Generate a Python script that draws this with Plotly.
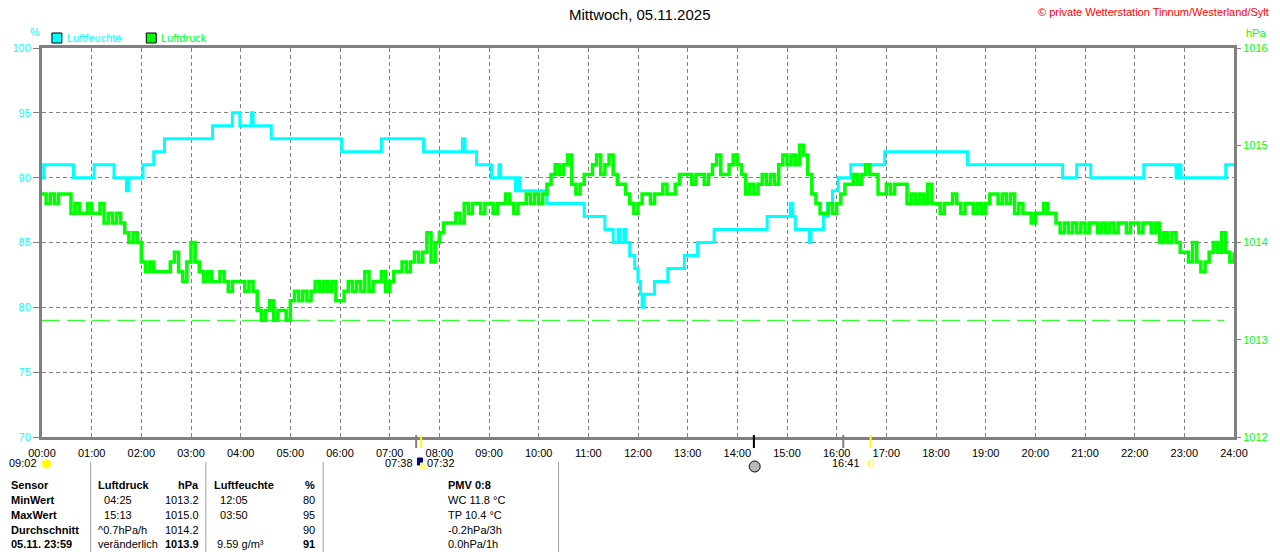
import numpy as np
import plotly.graph_objects as go

FONT = "Liberation Sans, Arial, sans-serif"
GRAU = "#808080"
CYAN = "#00ffff"
GRUEN = "#00ff00"

titel = "Mittwoch, 05.11.2025"
copyright_text = "© private Wetterstation Tinnum/Westerland/Sylt"
stunden_labels = ["%02d:00" % h for h in range(25)]

# Luftfeuchte (%) als Stufen: Uhrzeit der Aenderung -> neuer Wert
feuchte_zeit = ["00:00", "00:02", "00:38", "01:03", "01:27", "01:42", "01:45", "02:02", "02:15", "02:28",
                "03:26", "03:50", "03:59", "04:13", "04:15", "04:37", "06:02", "06:50", "07:41", "08:28",
                "08:31", "08:45", "09:03", "09:12", "09:14", "09:32", "09:34", "09:37", "10:10", "10:55",
                "11:20", "11:30", "11:36", "11:38", "11:43", "11:45", "11:50", "11:56", "12:00", "12:03",
                "12:05", "12:07", "12:20", "12:36", "12:56", "13:12", "13:32", "14:36", "15:04", "15:07",
                "15:10", "15:27", "15:29", "15:44", "15:49", "15:55", "16:02", "16:17", "16:58", "18:38",
                "20:33", "20:50", "21:07", "22:11", "22:50", "22:53", "22:56", "23:50", "24:00"]
feuchte_wert = [90, 91, 90, 91, 90, 89, 90, 91, 92, 93,
                94, 95, 94, 95, 94, 93, 92, 93, 92, 93,
                92, 91, 90, 91, 90, 89, 90, 89, 88, 87,
                86, 85, 86, 85, 86, 85, 84, 83, 82, 81,
                80, 81, 82, 83, 84, 85, 86, 87, 88, 87,
                86, 85, 86, 87, 88, 89, 90, 91, 92, 91,
                90, 91, 90, 91, 90, 91, 90, 91, 91]

# Luftdruck (hPa) alle 5 Minuten
druck_00_06 = [1014.5, 1014.4, 1014.5, 1014.4, 1014.5, 1014.5, 1014.5, 1014.3, 1014.4, 1014.3, 1014.3, 1014.4,
               1014.3, 1014.3, 1014.4, 1014.2, 1014.3, 1014.2, 1014.3, 1014.2, 1014.1, 1014.0, 1014.1, 1014.0,
               1013.8, 1013.7, 1013.8, 1013.7, 1013.7, 1013.7, 1013.7, 1013.8, 1013.9, 1013.7, 1013.6, 1013.8,
               1014.0, 1013.8, 1013.7, 1013.6, 1013.7, 1013.6, 1013.6, 1013.7, 1013.6, 1013.5, 1013.6, 1013.6,
               1013.6, 1013.5, 1013.6, 1013.5, 1013.3, 1013.2, 1013.3, 1013.4, 1013.2, 1013.3, 1013.3, 1013.2,
               1013.4, 1013.5, 1013.4, 1013.5, 1013.4, 1013.5, 1013.6, 1013.5, 1013.6, 1013.5, 1013.6, 1013.4]
druck_06_12 = [1013.4, 1013.5, 1013.6, 1013.5, 1013.6, 1013.5, 1013.7, 1013.5, 1013.6, 1013.6, 1013.7, 1013.5,
               1013.6, 1013.7, 1013.7, 1013.8, 1013.7, 1013.8, 1013.9, 1013.8, 1013.9, 1014.1, 1013.8, 1014.0,
               1014.1, 1014.2, 1014.2, 1014.2, 1014.3, 1014.2, 1014.4, 1014.3, 1014.4, 1014.4, 1014.3, 1014.4,
               1014.4, 1014.3, 1014.4, 1014.4, 1014.5, 1014.4, 1014.3, 1014.4, 1014.4, 1014.5, 1014.4, 1014.5,
               1014.4, 1014.5, 1014.6, 1014.7, 1014.8, 1014.7, 1014.8, 1014.9, 1014.6, 1014.5, 1014.6, 1014.7,
               1014.7, 1014.8, 1014.9, 1014.7, 1014.8, 1014.9, 1014.7, 1014.6, 1014.6, 1014.5, 1014.4, 1014.3]
druck_12_18 = [1014.4, 1014.5, 1014.5, 1014.4, 1014.5, 1014.5, 1014.6, 1014.5, 1014.5, 1014.6, 1014.7, 1014.7,
               1014.7, 1014.6, 1014.7, 1014.7, 1014.6, 1014.7, 1014.8, 1014.9, 1014.7, 1014.7, 1014.8, 1014.9,
               1014.8, 1014.7, 1014.5, 1014.6, 1014.5, 1014.6, 1014.7, 1014.6, 1014.7, 1014.6, 1014.8, 1014.9,
               1014.8, 1014.9, 1014.8, 1015.0, 1014.9, 1014.7, 1014.5, 1014.4, 1014.3, 1014.3, 1014.4, 1014.3,
               1014.4, 1014.5, 1014.6, 1014.6, 1014.7, 1014.6, 1014.7, 1014.8, 1014.7, 1014.7, 1014.5, 1014.5,
               1014.6, 1014.5, 1014.6, 1014.6, 1014.6, 1014.4, 1014.5, 1014.4, 1014.5, 1014.4, 1014.6, 1014.4]
druck_18_24 = [1014.4, 1014.3, 1014.4, 1014.4, 1014.5, 1014.4, 1014.3, 1014.4, 1014.4, 1014.3, 1014.4, 1014.3,
               1014.4, 1014.5, 1014.5, 1014.4, 1014.5, 1014.4, 1014.5, 1014.3, 1014.4, 1014.3, 1014.3, 1014.2,
               1014.3, 1014.3, 1014.4, 1014.3, 1014.3, 1014.2, 1014.1, 1014.2, 1014.1, 1014.2, 1014.1, 1014.2,
               1014.1, 1014.2, 1014.2, 1014.1, 1014.2, 1014.1, 1014.2, 1014.1, 1014.2, 1014.2, 1014.1, 1014.2,
               1014.2, 1014.1, 1014.2, 1014.2, 1014.1, 1014.2, 1014.0, 1014.1, 1014.0, 1014.1, 1014.0, 1013.9,
               1013.9, 1013.8, 1014.0, 1013.8, 1013.7, 1013.8, 1013.9, 1014.0, 1013.9, 1014.1, 1013.9, 1013.8,
               1013.9]

# Sonne/Mond-Markierungen an der Zeitachse
ereignis_zeit = ["07:32", "07:38", "14:20", "16:08", "16:41"]
ereignis_farbe = [GRAU, "#ffff00", "#000000", GRAU, "#ffff00"]

# Tabelle unten
tab_sensor = ["<b>Sensor</b>", "<b>MinWert</b>", "<b>MaxWert</b>", "<b>Durchschnitt</b>", "<b>05.11. 23:59</b>"]
tab_druck_txt = ["<b>Luftdruck</b>", "  04:25", "  15:13", "^0.7hPa/h", "veränderlich"]
tab_druck_val = ["<b>hPa</b>", "1013.2", "1015.0", "1014.2", "<b>1013.9</b>"]
tab_feuchte_txt = ["<b>Luftfeuchte</b>", "  12:05", "  03:50", "", " 9.59 g/m³"]
tab_feuchte_val = ["<b>%</b>", "80", "95", "90", "<b>91</b>"]
tab_extra = ["<b>PMV 0:8</b>", "WC 11.8 °C", "TP 10.4 °C", "-0.2hPa/3h", "0.0hPa/1h"]


def stunden(t):
    h, m = t.split(":")
    return int(h) + int(m) / 60.0


druck = druck_00_06 + druck_06_12 + druck_12_18 + druck_18_24
druck_x = np.arange(len(druck)) * 5 / 60.0
feuchte_x = [stunden(t) for t in feuchte_zeit]

W, H = 1280, 552
L, R, T, B = 40, 40, 48, 115


def fx(px):
    return (px - L) / (W - L - R)


def fy(py):
    return (H - B - py) / (H - T - B)


fig = go.Figure()

fig.add_trace(go.Scatter(x=feuchte_x, y=feuchte_wert, mode="lines", line_shape="hv",
                         line=dict(color=CYAN, width=3), name="Luftfeuchte"))
fig.add_trace(go.Scatter(x=druck_x, y=druck, mode="lines", line_shape="hv", yaxis="y2",
                         line=dict(color=GRUEN, width=3.5), name="Luftdruck"))

# Minimum Luftdruck gestrichelt
fig.add_shape(type="line", xref="x", yref="y2", x0=0, x1=23.8, y0=min(druck), y1=min(druck),
              line=dict(color=GRUEN, width=1, dash="18px,7px"), layer="below")

fig.update_layout(
    width=W, height=H,
    margin=dict(l=L, r=R, t=T, b=B),
    paper_bgcolor="white", plot_bgcolor="white",
    showlegend=False,
    font=dict(family=FONT, size=11, color="black"),
    xaxis=dict(range=[0, 24], tickvals=list(range(25)), ticktext=stunden_labels,
               showgrid=True, gridcolor=GRAU, griddash="4px,3px", gridwidth=1,
               showline=True, linecolor=GRAU, linewidth=3, mirror=True,
               ticks="outside", ticklen=4, tickcolor="rgba(0,0,0,0)",
               tickfont=dict(size=11, color="black"), zeroline=False),
    yaxis=dict(range=[70, 100], dtick=5, showgrid=True, gridcolor=GRAU, griddash="4px,3px",
               showline=True, linecolor=GRAU, linewidth=3, mirror=True,
               ticks="outside", ticklen=6, tickcolor=GRAU,
               tickfont=dict(size=11, color=CYAN), zeroline=False),
    yaxis2=dict(range=[1012, 1016], dtick=1, overlaying="y", side="right", showgrid=False,
                showline=False, ticks="outside", ticklen=6, tickcolor=GRAU,
                tickfont=dict(size=11, color=GRUEN), zeroline=False),
)


def text(x, y, s, color="black", size=11, anchor="left"):
    fig.add_annotation(x=fx(x), y=fy(y), xref="paper", yref="paper", text=s, showarrow=False,
                       xanchor=anchor, yanchor="middle", font=dict(color=color, size=size, family=FONT))


def box(x0, y0, x1, y1, fill, line="black", typ="rect"):
    fig.add_shape(type=typ, xref="paper", yref="paper", x0=fx(x0), x1=fx(x1), y0=fy(y0), y1=fy(y1),
                  fillcolor=fill, line=dict(color=line, width=1))


# Kopf
text(642, 15, titel, size=15, anchor="center")
text(1277, 12, copyright_text, color="#ff0000", size=11, anchor="right")
text(26, 32, "%", color=CYAN)
text(1250, 33, "hPa", color=GRUEN)
box(50, 33, 60, 43, CYAN)
text(63, 38, "Luftfeuchte", color=CYAN)
box(145, 33, 155, 43, GRUEN)
text(158, 38, "Luftdruck", color=GRUEN)

# Markierungen an der Zeitachse
for t, c in zip(ereignis_zeit, ereignis_farbe):
    fig.add_shape(type="line", xref="x", yref="paper", x0=stunden(t), x1=stunden(t),
                  y0=fy(448), y1=fy(435), line=dict(color=c, width=2))

text(37, 463, "09:02", anchor="right")
box(40, 460, 49, 468, "#ffff00", line="#ffff00", typ="circle")
text(415, 463, "07:38", anchor="right")
box(418, 458, 423, 465, "#000080", line="#000080")
box(421, 463, 425, 469, "#ffff80", line="#ffff80")
text(426, 463, "07:32")
box(752, 461, 763, 472, "#b8b8b8", line="#000000", typ="circle")
text(866, 463, "16:41", anchor="right")
box(872, 461, 877, 466, "white", line="#ffff00")

# Tabelle
for xs in [89, 205, 323, 560]:
    fig.add_shape(type="line", xref="paper", yref="paper", x0=fx(xs), x1=fx(xs), y0=fy(462), y1=fy(552),
                  line=dict(color="#a0a0a0", width=1))

zeilen_y = [485, 500, 515, 530, 544]
for i, y in enumerate(zeilen_y):
    text(7, y, tab_sensor[i])
    text(94, y, tab_druck_txt[i].replace(" ", "&nbsp;"))
    text(200, y, tab_druck_val[i], anchor="right")
    text(211, y, tab_feuchte_txt[i].replace(" ", "&nbsp;"))
    text(317, y, tab_feuchte_val[i], anchor="right")
    text(447, y, tab_extra[i])

fig.write_html("out.html", config={"displayModeBar": False},
               post_script="document.body.style.margin='0';")
